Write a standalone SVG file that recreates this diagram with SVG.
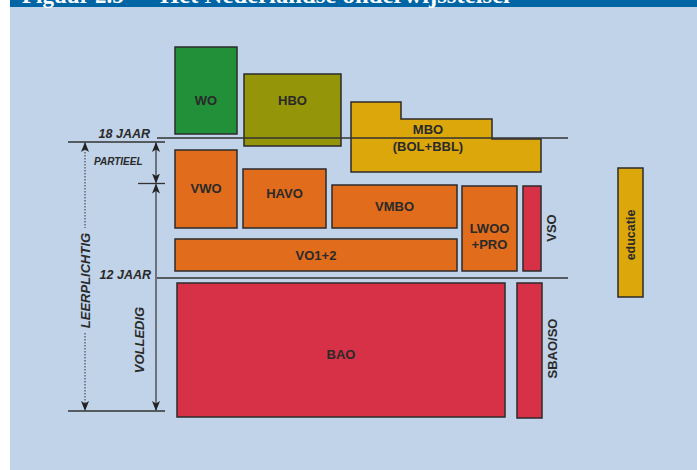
<svg xmlns="http://www.w3.org/2000/svg" width="697" height="470" viewBox="0 0 697 470">
<style>
.box{stroke:#2b2b2b;stroke-width:1.5}
.or{fill:#e06c1c}.rd{fill:#d63147}.gd{fill:#dca70b}
.lbl{font-family:"Liberation Sans",Arial,sans-serif;font-weight:bold;font-size:13px;fill:#2a2a2a;text-anchor:middle}
.age{font-family:"Liberation Sans",Arial,sans-serif;font-weight:bold;font-style:italic;font-size:12.5px;fill:#2a2a2a}
.ln{stroke:#333;stroke-width:1.3;fill:none}
.ar{stroke:#333;stroke-width:1.2;fill:none;marker-start:url(#ah);marker-end:url(#ah)}
.ttl{font-family:"Liberation Serif","Times New Roman",serif;font-weight:bold;font-size:23px;fill:#ffffff}
</style>
<defs>
<marker id="ah" viewBox="0 0 10 8" refX="9" refY="4" markerWidth="10" markerHeight="8" markerUnits="userSpaceOnUse" orient="auto-start-reverse">
<path d="M0,0 L10,4 L0,8 L2.5,4 z" fill="#222"/>
</marker>
</defs>
<rect x="0" y="0" width="697" height="470" fill="#ffffff"/>
<rect x="10" y="0" width="687" height="470" fill="#c0d3e8"/>
<rect x="10" y="0" width="687" height="7" fill="#0065a4"/>
<text class="ttl" x="22" y="2.5">Figuur 2.5</text>
<text class="ttl" x="160" y="2.5" textLength="350" lengthAdjust="spacingAndGlyphs">Het Nederlandse onderwijsstelsel</text>

<g id="wo"><rect class="box" x="175" y="47" width="62" height="87" fill="#229038"/><text class="lbl" x="206" y="105">WO</text></g>
<g id="hbo"><rect class="box" x="244" y="74" width="97" height="72" fill="#959509"/><text class="lbl" x="292.5" y="105">HBO</text></g>
<g id="mbo"><path class="box gd" d="M351,102 H401 V119 H492 V139 H541 V172 H351 Z"/><text class="lbl" x="428" y="134">MBO</text><text class="lbl" x="428" y="151">(BOL+BBL)</text></g>
<g id="vwo"><rect class="box or" x="175" y="150" width="62" height="78"/><text class="lbl" x="206" y="193">VWO</text></g>
<g id="havo"><rect class="box or" x="243" y="169" width="83" height="59"/><text class="lbl" x="284.5" y="198">HAVO</text></g>
<g id="vmbo"><rect class="box or" x="332" y="185" width="125" height="43"/><text class="lbl" x="394.5" y="211">VMBO</text></g>
<g id="lwoo"><rect class="box or" x="462" y="186" width="55" height="85"/><text class="lbl" x="489.5" y="233">LWOO</text><text class="lbl" x="489.5" y="249">+PRO</text></g>
<g id="vso"><rect class="box rd" x="523" y="186" width="18" height="85"/><text class="lbl" transform="translate(556,228) rotate(-90)" x="0" y="0">VSO</text></g>
<g id="vo12"><rect class="box or" x="175" y="239" width="282" height="32"/><text class="lbl" x="316" y="260">VO1+2</text></g>
<g id="bao"><rect class="box rd" x="177" y="283" width="328" height="134"/><text class="lbl" x="341" y="359">BAO</text></g>
<g id="sbao"><rect class="box rd" x="517" y="283" width="25" height="135"/><text class="lbl" transform="translate(557,348.5) rotate(-90)" x="0" y="0">SBAO/SO</text></g>
<g id="educatie"><rect class="box gd" x="618" y="168" width="25" height="129"/><text class="lbl" style="font-size:12.5px" transform="translate(635,235) rotate(-90)" x="0" y="0">educatie</text></g>

<g id="connectors">
<line class="ln" x1="157" y1="138" x2="568" y2="138"/>
<line class="ln" x1="68" y1="142" x2="165" y2="142"/>
<line class="ln" x1="138" y1="183.5" x2="165" y2="183.5"/>
<line class="ln" x1="157" y1="278" x2="568" y2="278"/>
<line class="ln" x1="68" y1="411" x2="165" y2="411"/>
<line class="ar" x1="156" y1="143" x2="156" y2="182.5"/>
<line class="ar" x1="156" y1="184.5" x2="156" y2="410"/>
<line stroke="#333" stroke-width="1" stroke-dasharray="1.5,1.5" x1="85" y1="143" x2="85" y2="228" marker-start="url(#ah)"/>
<line stroke="#333" stroke-width="1" stroke-dasharray="1.5,1.5" x1="85" y1="333" x2="85" y2="410" marker-end="url(#ah)"/>
</g>
<g id="labels">
<text class="age" x="150" y="138" text-anchor="end">18 JAAR</text>
<text class="age" x="151" y="279" text-anchor="end">12 JAAR</text>
<text class="age" style="font-size:10px" x="94" y="165">PARTIEEL</text>
<text class="age" text-anchor="middle" transform="translate(90,280.5) rotate(-90)" style="font-size:13px">LEERPLICHTIG</text>
<text class="age" text-anchor="middle" transform="translate(144,340) rotate(-90)" style="font-size:13px">VOLLEDIG</text>
</g>
</svg>
